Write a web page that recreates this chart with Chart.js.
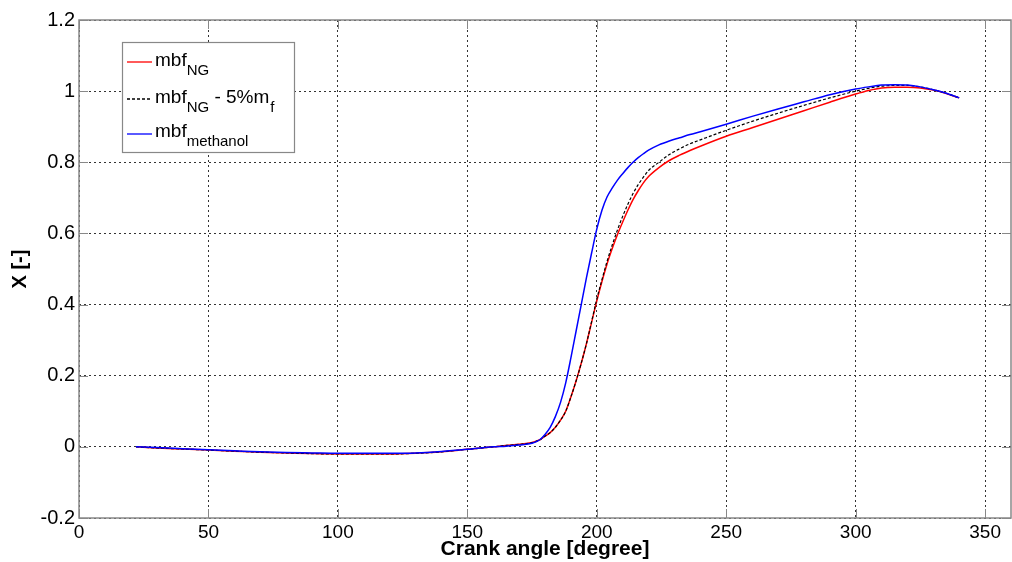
<!DOCTYPE html>
<html><head><meta charset="utf-8">
<script src="https://cdn.jsdelivr.net/npm/chart.js@4/dist/chart.umd.min.js"></script>
<style>html,body{margin:0;padding:0;background:#fff;}canvas{display:block;}</style>
</head><body>
<canvas id="c" width="1012" height="562"></canvas>
<script>
const crankAngle = [22,30,40,50,60,70,80,90,100,110,120,130,140,150,160,165,170,175,178,180,182,184,186,188,190,192,194,196,198,200,202,204,206,208,210,212,214,216,218,220,224,228,232,236,240,250,260,270,280,290,300,305,310,315,320,325,330,335,340];
const mbfNG = [0,-0.003,-0.006,-0.009,-0.012,-0.015,-0.017,-0.019,-0.02,-0.02,-0.02,-0.018,-0.014,-0.007,0,0.004,0.007,0.012,0.02,0.03,0.04,0.055,0.075,0.1,0.14,0.185,0.235,0.29,0.35,0.41,0.465,0.515,0.558,0.597,0.632,0.665,0.695,0.72,0.742,0.76,0.785,0.805,0.82,0.833,0.845,0.873,0.897,0.921,0.945,0.969,0.992,1.002,1.009,1.011,1.011,1.009,1.003,0.993,0.981];
const mbfNG5 = [0,-0.003,-0.006,-0.009,-0.012,-0.015,-0.017,-0.019,-0.02,-0.02,-0.02,-0.018,-0.014,-0.007,0,0.004,0.007,0.012,0.02,0.03,0.04,0.055,0.075,0.1,0.14,0.185,0.235,0.29,0.352,0.415,0.47,0.522,0.568,0.61,0.648,0.682,0.712,0.737,0.758,0.777,0.80,0.822,0.838,0.852,0.863,0.89,0.915,0.938,0.96,0.981,1.0,1.008,1.014,1.016,1.016,1.012,1.004,0.994,0.981];
const mbfMethanol = [0,-0.002,-0.005,-0.008,-0.011,-0.014,-0.016,-0.017,-0.018,-0.018,-0.018,-0.017,-0.013,-0.007,0,0.002,0.005,0.01,0.02,0.035,0.055,0.085,0.125,0.18,0.25,0.325,0.4,0.475,0.545,0.612,0.665,0.703,0.728,0.75,0.768,0.785,0.8,0.813,0.824,0.834,0.849,0.86,0.869,0.878,0.886,0.907,0.929,0.95,0.97,0.99,1.006,1.012,1.017,1.018,1.017,1.012,1.004,0.994,0.981];
const xTickValues = [0,50,100,150,200,250,300,350];
const yTickValues = [-0.2,0,0.2,0.4,0.6,0.8,1,1.2];
const xTitle = 'Crank angle [degree]';
const yTitle = 'X [-]';
// legend entries: [main text, subscript, extra main text, extra subscript]
const legendEntries = [
  ['mbf','NG','',''],
  ['mbf','NG',' - 5%m','f'],
  ['mbf','methanol','','']
];
const seriesColors = ['#ff0000','#000000','#0000ff'];
const seriesDash = [[],[3,2],[]];

const series = [mbfNG, mbfNG5, mbfMethanol];
const datasets = series.map((s,i)=>({
  label: legendEntries[i].join(''),
  data: crankAngle.map((x,j)=>({x:x,y:s[j]})),
  borderColor: seriesColors[i],
  borderWidth: i===1?1.2:1.5,
  borderDash: seriesDash[i],
  pointRadius: 0,
  cubicInterpolationMode: 'monotone',
  fill: false,
  order: [2,1,0][i]
}));

const frame = {
  id:'frame',
  afterDraw(chart){
    const {ctx, chartArea:a, scales} = chart;
    ctx.save();
    // inside tick marks
    ctx.strokeStyle='#888';ctx.lineWidth=1;
    xTickValues.forEach(v=>{
      const px=Math.round(scales.x.getPixelForValue(v))+0.5;
      ctx.beginPath();ctx.moveTo(px,a.bottom);ctx.lineTo(px,a.bottom-9);
      ctx.moveTo(px,a.top);ctx.lineTo(px,a.top+9);ctx.stroke();
    });
    yTickValues.forEach(v=>{
      const py=Math.round(scales.y.getPixelForValue(v))+0.5;
      ctx.beginPath();ctx.moveTo(a.left,py);ctx.lineTo(a.left+9,py);
      ctx.moveTo(a.right,py);ctx.lineTo(a.right-9,py);ctx.stroke();
    });
    ctx.strokeStyle='#888';ctx.lineWidth=1.5;
    ctx.strokeRect(a.left,a.top,a.right-a.left,a.bottom-a.top);
    // y title
    ctx.save();
    ctx.translate(20,(a.top+a.bottom)/2);ctx.rotate(-Math.PI/2);
    ctx.font='bold 20px "Liberation Sans", Arial, sans-serif';
    ctx.fillStyle='#000';ctx.textAlign='center';ctx.textBaseline='middle';
    ctx.fillText(yTitle,0,0);
    ctx.restore();
    // legend
    const lx=122.5, ly=42.5, lw=172, lh=110;
    ctx.fillStyle='#fff';ctx.fillRect(lx,ly,lw,lh);
    ctx.strokeStyle='#888';ctx.lineWidth=1.2;ctx.strokeRect(lx,ly,lw,lh);
    const rowY=[66,103,137];
    const lineY=[62,99,134];
    legendEntries.forEach((e,i)=>{
      ctx.strokeStyle=seriesColors[i];ctx.lineWidth=1.3;ctx.setLineDash(seriesDash[i]);
      ctx.beginPath();ctx.moveTo(127,lineY[i]);ctx.lineTo(152,lineY[i]);ctx.stroke();
      ctx.setLineDash([]);
      ctx.fillStyle='#000';ctx.textBaseline='alphabetic';ctx.textAlign='left';
      let x=155;
      ctx.font='19px "Liberation Sans", Arial, sans-serif';
      ctx.fillText(e[0],x,rowY[i]);x+=ctx.measureText(e[0]).width;
      ctx.font='15px "Liberation Sans", Arial, sans-serif';
      ctx.fillText(e[1],x,rowY[i]+9);x+=ctx.measureText(e[1]).width;
      if(e[2]){
        ctx.font='19px "Liberation Sans", Arial, sans-serif';
        ctx.fillText(e[2],x,rowY[i]);x+=ctx.measureText(e[2]).width;
        ctx.font='15px "Liberation Sans", Arial, sans-serif';
        ctx.fillText(e[3],x+1,rowY[i]+9);
      }
    });
    ctx.restore();
  }
};

new Chart(document.getElementById('c'),{
  type:'line',
  data:{datasets},
  options:{
    responsive:false,animation:false,
    layout:{padding:{top:20,right:1,left:0,bottom:0}},
    plugins:{legend:{display:false},tooltip:{enabled:false}},
    scales:{
      x:{type:'linear',min:0,max:360,
        afterBuildTicks(s){s.ticks=xTickValues.map(v=>({value:v}));},
        afterFit(s){s.height=44;},
        grid:{color:'#333',lineWidth:1,drawTicks:false,tickLength:0},
        border:{display:false,dash:[2,3]},
        ticks:{padding:3,color:'#000',maxRotation:0,font:{family:'"Liberation Sans", Arial',size:19},callback:v=>String(v)},
        title:{display:true,text:xTitle,color:'#000',padding:{top:-2,bottom:0},font:{family:'"Liberation Sans", Arial',size:21,weight:'bold'}}
      },
      y:{type:'linear',min:-0.2,max:1.2,
        afterBuildTicks(s){s.ticks=yTickValues.map(v=>({value:v}));},
        afterFit(s){s.width=79;},
        grid:{color:'#333',lineWidth:1,drawTicks:false,tickLength:0},
        border:{display:false,dash:[2,3]},
        ticks:{padding:4,color:'#000',font:{family:'"Liberation Sans", Arial',size:20},callback:v=>String(Number(v.toFixed(1)))},
        title:{display:false}
      }
    }
  },
  plugins:[frame]
});
</script>
</body></html>
